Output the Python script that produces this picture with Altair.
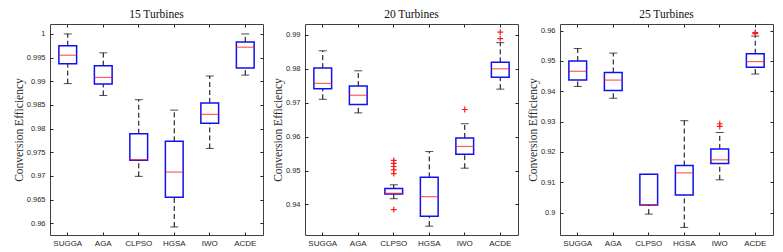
import altair as alt
import pandas as pd

methods = ["SUGGA", "AGA", "CLPSO", "HGSA", "IWO", "ACDE"]

# 15 turbines
p1_lower = [0.9895, 0.9870, 0.9699, 0.9592, 0.9758, 0.9913]
p1_q1 = [0.9937, 0.9894, 0.9733, 0.9655, 0.9811, 0.9928]
p1_med = [0.9955, 0.9908, 0.9734, 0.9708, 0.9830, 0.9972]
p1_q3 = [0.9975, 0.9933, 0.9789, 0.9773, 0.9854, 0.9983]
p1_upper = [1.0000, 0.9960, 0.9861, 0.9839, 0.9911, 1.0000]
p1_out_m = []
p1_out_v = []
p1_ticks = [0.96, 0.965, 0.97, 0.975, 0.98, 0.985, 0.99, 0.995, 1.0]
p1_domain = [0.9575, 1.0021]

# 20 turbines
p2_lower = [0.9710, 0.9670, 0.9417, 0.9336, 0.9507, 0.9740]
p2_q1 = [0.9741, 0.9695, 0.9431, 0.9365, 0.9548, 0.9775]
p2_med = [0.9757, 0.9722, 0.9433, 0.9423, 0.9571, 0.9800]
p2_q3 = [0.9802, 0.9749, 0.9447, 0.9480, 0.9596, 0.9819]
p2_upper = [0.9853, 0.9794, 0.9458, 0.9556, 0.9638, 0.9877]
p2_out_m = ["CLPSO", "CLPSO", "CLPSO", "CLPSO", "CLPSO", "CLPSO", "IWO", "ACDE", "ACDE"]
p2_out_v = [0.9530, 0.9521, 0.9512, 0.9502, 0.9491, 0.9385, 0.9680, 0.9908, 0.9889]
p2_ticks = [0.94, 0.95, 0.96, 0.97, 0.98, 0.99]
p2_domain = [0.9310, 0.9932]

# 25 turbines
p3_lower = [0.9416, 0.9377, 0.8995, 0.8951, 0.9108, 0.9457]
p3_q1 = [0.9437, 0.9403, 0.9025, 0.9058, 0.9162, 0.9479]
p3_med = [0.9466, 0.9437, 0.9026, 0.9131, 0.9174, 0.9498]
p3_q3 = [0.9500, 0.9462, 0.9126, 0.9155, 0.9210, 0.9524]
p3_upper = [0.9541, 0.9526, 0.9126, 0.9303, 0.9264, 0.9582]
p3_out_m = ["IWO", "IWO", "ACDE", "ACDE"]
p3_out_v = [0.9293, 0.9284, 0.9594, 0.9590]
p3_ticks = [0.90, 0.91, 0.92, 0.93, 0.94, 0.95, 0.96]
p3_domain = [0.8926, 0.9622]

W, H = 213, 211
BLUE = "#1010f0"
RED = "#ff1a1a"
PLUS = "M-1,0L1,0M0,-1L0,1"


def panel(title, lower, q1, med, q3, upper, out_m, out_v, ticks, domain):
    df = pd.DataFrame({"method": methods, "lower": lower, "q1": q1,
                       "median": med, "q3": q3, "upper": upper})
    odf = pd.DataFrame({"method": out_m, "value": out_v})
    xs = alt.Scale(type="band", paddingInner=0, paddingOuter=0, domain=methods)
    ys = alt.Scale(domain=domain, nice=False, zero=False)

    def X(axis):
        return alt.X("method:N", sort=methods, scale=xs, axis=axis)

    x_bottom = alt.Axis(title=None, labelAngle=0, domain=False, offset=-3,
                        tickSize=3, labelPadding=4, labelFontSize=8)
    y_left = alt.Axis(title="Conversion Efficiency", values=ticks, format="~g",
                      domain=False, offset=-3, tickSize=3, labelPadding=5,
                      titlePadding=2, labelFontSize=7.5, grid=False)
    x_top = alt.Axis(title=None, orient="top", labels=False, domain=False,
                     offset=-3, tickSize=3)
    y_right = alt.Axis(title=None, orient="right", labels=False, values=ticks,
                       domain=False, offset=-3, tickSize=3)

    base = alt.Chart(df)
    w_lo = base.mark_rule(color="black", strokeDash=[5, 3], strokeWidth=1).encode(
        x=X(x_bottom),
        y=alt.Y("lower:Q", scale=ys, axis=y_left), y2="q1:Q")
    w_hi = base.mark_rule(color="black", strokeDash=[5, 3], strokeWidth=1).encode(
        x=X(x_top),
        y=alt.Y("q3:Q", scale=ys, axis=y_right), y2="upper:Q")
    cap_lo = base.mark_tick(color="black", size=8, thickness=1, orient="horizontal").encode(
        x=X(None), y=alt.Y("lower:Q", scale=ys, axis=None))
    cap_hi = base.mark_tick(color="black", size=8, thickness=1, orient="horizontal").encode(
        x=X(None), y=alt.Y("upper:Q", scale=ys, axis=None))
    box = base.mark_bar(width={"band": 0.5}, fill="white", stroke=BLUE,
                        strokeWidth=1.5).encode(
        x=X(None), y=alt.Y("q1:Q", scale=ys, axis=None), y2="q3:Q")
    medl = base.mark_tick(color=RED, size=18, thickness=1.2, orient="horizontal").encode(
        x=X(None), y=alt.Y("median:Q", scale=ys, axis=None))
    layers = [w_lo, w_hi, cap_lo, cap_hi, box, medl]
    if len(out_v):
        outl = alt.Chart(odf).mark_point(shape=PLUS, color=RED, size=34,
                                         strokeWidth=1.2, filled=False, opacity=1).encode(
            x=X(None), y=alt.Y("value:Q", scale=ys, axis=None))
        layers.append(outl)
    return alt.layer(*layers).resolve_axis(x="independent", y="independent").properties(
        width=W, height=H, title=title)


c1 = panel("15 Turbines", p1_lower, p1_q1, p1_med, p1_q3, p1_upper, p1_out_m, p1_out_v, p1_ticks, p1_domain)
c2 = panel("20 Turbines", p2_lower, p2_q1, p2_med, p2_q3, p2_upper, p2_out_m, p2_out_v, p2_ticks, p2_domain)
c3 = panel("25 Turbines", p3_lower, p3_q1, p3_med, p3_q3, p3_upper, p3_out_m, p3_out_v, p3_ticks, p3_domain)

chart = alt.hconcat(c1, c2, c3, spacing=7).properties(
    padding={"left": 4, "top": 0, "right": 0, "bottom": 0}
).configure_view(
    stroke="#404040", strokeWidth=1
).configure_axis(
    labelFont="Liberation Sans", labelColor="#262626",
    titleFont="Liberation Serif", titleFontSize=11.5, titleFontWeight="normal",
    titleColor="#262626", tickColor="#262626", grid=False
).configure_title(
    font="Liberation Serif", fontSize=11.5, fontWeight="normal",
    color="#111111", offset=3
)

chart.save("out.html", embed_options={"renderer": "svg", "actions": False})
